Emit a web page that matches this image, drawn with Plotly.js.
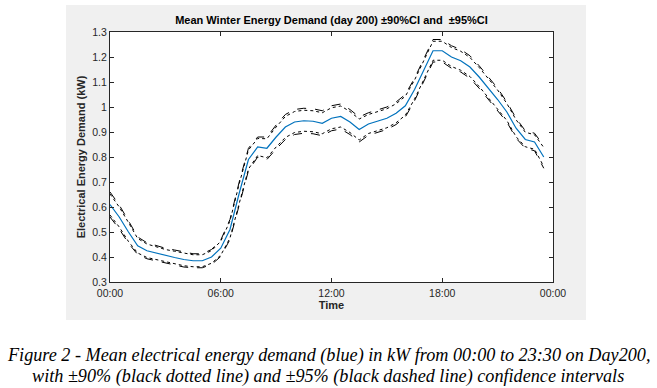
<!DOCTYPE html>
<html>
<head>
<meta charset="utf-8">
<script src="https://cdn.plot.ly/plotly-3.0.1.min.js"></script>
<style>
  html, body { margin: 0; padding: 0; background: #ffffff; }
  #chart { width: 657px; height: 388px; }
</style>
</head>
<body>
<div id="chart"></div>
<script>
// Half-hourly time stamps, 00:00 .. 23:30
const times = ["00:00","00:30","01:00","01:30","02:00","02:30","03:00","03:30","04:00","04:30",
  "05:00","05:30","06:00","06:30","07:00","07:30","08:00","08:30","09:00","09:30",
  "10:00","10:30","11:00","11:30","12:00","12:30","13:00","13:30","14:00","14:30",
  "15:00","15:30","16:00","16:30","17:00","17:30","18:00","18:30","19:00","19:30",
  "20:00","20:30","21:00","21:30","22:00","22:30","23:00","23:30"];

// Mean demand (kW)
const meanDemand = [0.61,0.56,0.50,0.445,0.425,0.415,0.405,0.398,0.39,0.385,
  0.385,0.40,0.435,0.51,0.655,0.79,0.84,0.835,0.88,0.92,
  0.94,0.945,0.943,0.935,0.955,0.962,0.94,0.91,0.932,0.943,
  0.955,0.975,1.005,1.07,1.15,1.225,1.225,1.20,1.185,1.16,
  1.12,1.075,1.03,0.98,0.915,0.87,0.86,0.80];

// 95% confidence bounds (dashed)
const upper95 = [0.66,0.608,0.545,0.48,0.457,0.445,0.435,0.428,0.42,0.413,
  0.413,0.43,0.468,0.55,0.70,0.835,0.88,0.88,0.928,0.97,
  0.99,0.995,0.993,0.985,1.005,1.012,0.99,0.96,0.977,0.988,
  1.0,1.02,1.05,1.115,1.195,1.27,1.27,1.245,1.23,1.205,
  1.165,1.12,1.075,1.02,0.955,0.905,0.895,0.845];
const lower95 = [0.56,0.512,0.455,0.41,0.393,0.385,0.375,0.368,0.36,0.357,
  0.357,0.37,0.402,0.47,0.61,0.745,0.80,0.79,0.832,0.87,
  0.89,0.895,0.893,0.885,0.905,0.912,0.89,0.86,0.887,0.898,
  0.91,0.93,0.96,1.025,1.105,1.18,1.18,1.155,1.14,1.115,
  1.075,1.03,0.985,0.94,0.875,0.835,0.825,0.755];

// 90% confidence bounds (dotted)
const upper90 = [0.652,0.600,0.538,0.474,0.452,0.440,0.430,0.423,0.415,0.409,
  0.409,0.425,0.463,0.544,0.693,0.828,0.874,0.873,0.920,0.962,
  0.982,0.987,0.985,0.977,0.997,1.004,0.982,0.952,0.970,0.981,
  0.993,1.013,1.043,1.108,1.188,1.263,1.263,1.238,1.223,1.198,
  1.158,1.113,1.068,1.014,0.949,0.899,0.889,0.838];
const lower90 = [0.568,0.520,0.462,0.416,0.398,0.390,0.380,0.373,0.365,0.361,
  0.361,0.375,0.407,0.476,0.617,0.752,0.806,0.797,0.840,0.878,
  0.898,0.903,0.901,0.893,0.913,0.920,0.898,0.868,0.894,0.905,
  0.917,0.937,0.967,1.032,1.112,1.187,1.187,1.162,1.147,1.122,
  1.082,1.037,0.992,0.946,0.881,0.841,0.831,0.762];

// Axis ticks
const xTickVals = ["2000-01-01 00:00","2000-01-01 06:00","2000-01-01 12:00","2000-01-01 18:00","2000-01-02 00:00"];
const xTickText = ["00:00","06:00","12:00","18:00","00:00"];
const yTickVals = [0.3,0.4,0.5,0.6,0.7,0.8,0.9,1.0,1.1,1.2,1.3];
const yTickText = ["0.3","0.4","0.5","0.6","0.7","0.8","0.9","1","1.1","1.2","1.3"];

const x = times.map(t => "2000-01-01 " + t);

const blackLine = (y, dash) => ({
  x: x, y: y, type: 'scatter', mode: 'lines',
  line: {color: '#000000', width: 1, dash: dash},
  hoverinfo: 'skip', showlegend: false
});

const traces = [
  blackLine(upper95, 'dash'),
  blackLine(lower95, 'dash'),
  blackLine(upper90, 'dot'),
  blackLine(lower90, 'dot'),
  {x: x, y: meanDemand, type: 'scatter', mode: 'lines',
   line: {color: '#0072BD', width: 1.2}, showlegend: false}
];

const axisFont = {family: 'Liberation Sans, Arial, sans-serif', size: 10.5, color: '#262626'};
const ax = {
  showgrid: false, zeroline: false,
  showline: true, linecolor: '#262626', linewidth: 1, mirror: 'ticks',
  ticks: 'inside', ticklen: 4, tickcolor: '#262626', tickwidth: 1,
  tickfont: axisFont
};

const layout = {
  width: 657, height: 388,
  margin: {l: 110, r: 104, t: 32, b: 106},
  paper_bgcolor: '#ffffff', plot_bgcolor: '#ffffff',
  showlegend: false,
  title: {
    text: '<b>Mean Winter Energy Demand (day 200) ±90%CI and  ±95%CI</b>',
    font: {family: 'Liberation Sans, Arial, sans-serif', size: 11, color: '#000000'},
    x: 0.5, xref: 'paper', xanchor: 'center',
    y: 1, yref: 'paper', yanchor: 'bottom', pad: {b: 8}
  },
  xaxis: Object.assign({}, ax, {
    type: 'date',
    range: ["2000-01-01 00:00", "2000-01-02 00:00"],
    tickvals: xTickVals, ticktext: xTickText,
    ticklabelstandoff: 1,
    title: {text: '<b>Time</b>', standoff: 1,
            font: {family: 'Liberation Sans, Arial, sans-serif', size: 11, color: '#262626'}}
  }),
  yaxis: Object.assign({}, ax, {
    range: [0.3, 1.3],
    tickvals: yTickVals, ticktext: yTickText,
    title: {text: '<b>Electrical Energy Demand (kW)</b>', standoff: 4,
            font: {family: 'Liberation Sans, Arial, sans-serif', size: 11, color: '#262626'}}
  }),
  shapes: [
    {type: 'rect', xref: 'paper', yref: 'paper', layer: 'below',
     x0: (66 - 110) / 443, x1: (586 - 110) / 443,
     y0: (282 - 320) / 250, y1: (282 - 5) / 250,
     fillcolor: '#f0f0f0', line: {width: 0}},
    {type: 'rect', xref: 'paper', yref: 'paper', layer: 'below',
     x0: 0, x1: 1, y0: 0, y1: 1,
     fillcolor: '#ffffff', line: {width: 0}}
  ],
  annotations: [
    {text: 'Figure 2 - Mean electrical energy demand (blue) in kW from 00:00 to 23:30 on Day200,',
     xref: 'paper', yref: 'paper', x: (328 - 110) / 443, y: (282 - 355) / 250,
     xanchor: 'center', yanchor: 'middle', showarrow: false,
     font: {family: 'Liberation Serif, Times New Roman, serif', size: 18.2, color: '#000000', style: 'italic'}},
    {text: 'with ±90% (black dotted line) and ±95% (black dashed line) confidence intervals',
     xref: 'paper', yref: 'paper', x: (328 - 110) / 443, y: (282 - 376) / 250,
     xanchor: 'center', yanchor: 'middle', showarrow: false,
     font: {family: 'Liberation Serif, Times New Roman, serif', size: 18.2, color: '#000000', style: 'italic'}}
  ]
};

Plotly.newPlot('chart', traces, layout, {displayModeBar: false, staticPlot: true});
</script>
</body>
</html>
